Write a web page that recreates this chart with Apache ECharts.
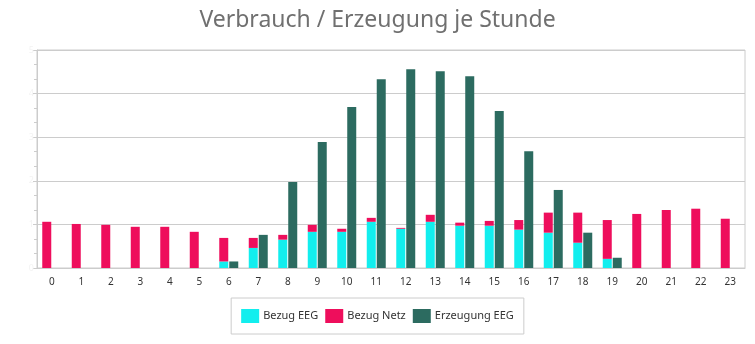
<!DOCTYPE html>
<html>
<head>
<meta charset="utf-8">
<script src="https://cdn.jsdelivr.net/npm/echarts@6/dist/echarts.min.js"></script>
<style>
html,body{margin:0;padding:0;background:#fff;}
#chart{width:755px;height:344px;}
</style>
</head>
<body>
<div id="chart"></div>
<script>
var hours = ['0','1','2','3','4','5','6','7','8','9','10','11','12','13','14','15','16','17','18','19','20','21','22','23'];
var bezugEEG = [0,0,0,0,0,0,0.15,0.46,0.65,0.83,0.83,1.06,0.90,1.06,0.97,0.97,0.88,0.81,0.58,0.21,0,0,0,0];
var bezugNetz = [1.06,1.01,0.99,0.945,0.945,0.83,0.54,0.23,0.11,0.16,0.07,0.09,0.02,0.16,0.07,0.11,0.22,0.46,0.69,0.89,1.24,1.33,1.36,1.13];
var erzeugungEEG = [0,0,0,0,0,0,0.15,0.76,1.975,2.89,3.69,4.33,4.56,4.51,4.40,3.60,2.68,1.79,0.81,0.235,0,0,0,0];
var yTicks = ['0','1','2','3','4','5'];

var minorCats = [];
for (var i = 0; i < hours.length * 5; i++) minorCats.push(String(i));

var chart = echarts.init(document.getElementById('chart'), null, {renderer: 'canvas'});
var font = '"Noto Sans", sans-serif';
chart.setOption({
  animation: false,
  title: {
    text: 'Verbrauch / Erzeugung je Stunde',
    left: 'center',
    top: 4,
    textStyle: {fontFamily: font, fontSize: 23, fontWeight: 'normal', color: '#707070'}
  },
  legend: {
    left: 'center',
    top: 298,
    padding: [11, 10],
    borderColor: '#cccccc',
    borderWidth: 1,
    itemWidth: 18,
    itemHeight: 14,
    itemGap: 7,
    icon: 'rect',
    textStyle: {fontFamily: font, fontSize: 11, color: '#333333', padding: [0, 0, 0, -1]},
    data: ['Bezug EEG', 'Bezug Netz', 'Erzeugung EEG']
  },
  grid: {
    left: 37, right: 10, top: 50, bottom: 76,
    show: true, borderColor: '#cccccc', borderWidth: 1
  },
  xAxis: [{
    type: 'category',
    data: hours,
    axisLine: {lineStyle: {color: '#cccccc'}},
    axisTick: {alignWithLabel: true, length: 5, lineStyle: {color: '#cccccc'}},
    axisLabel: {fontFamily: font, fontSize: 10, color: '#333333', margin: 9, interval: 0}
  }, {
    type: 'category',
    data: minorCats,
    position: 'bottom',
    axisLine: {show: false},
    axisTick: {alignWithLabel: true, interval: 0, length: 3, lineStyle: {color: '#cccccc'}},
    axisLabel: {show: false},
    splitLine: {show: false}
  }],
  yAxis: {
    type: 'value',
    min: 0, max: 5, interval: 1,
    axisLine: {show: true, lineStyle: {color: '#cccccc'}},
    axisTick: {show: true, length: 4, lineStyle: {color: '#cccccc'}},
    minorTick: {show: true, splitNumber: 3, length: 3, lineStyle: {color: '#cccccc'}},
    splitLine: {lineStyle: {color: '#cccccc'}},
    axisLabel: {fontFamily: font, fontSize: 9, color: '#f3f3f3', margin: 3,
      formatter: function (v) { return yTicks[Math.round(v)] || ''; }}
  },
  series: [{
    name: 'Bezug EEG', type: 'bar', stack: 'bezug', xAxisIndex: 0,
    data: bezugEEG, barWidth: 9, barGap: '11%',
    itemStyle: {color: '#12EEEE'}
  }, {
    name: 'Bezug Netz', type: 'bar', stack: 'bezug', xAxisIndex: 0,
    data: bezugNetz, barWidth: 9, barGap: '11%',
    itemStyle: {color: '#EE0E5C'}
  }, {
    name: 'Erzeugung EEG', type: 'bar', xAxisIndex: 0,
    data: erzeugungEEG, barWidth: 9, barGap: '11%',
    itemStyle: {color: '#2C6B60'}
  }]
});
</script>
</body>
</html>
